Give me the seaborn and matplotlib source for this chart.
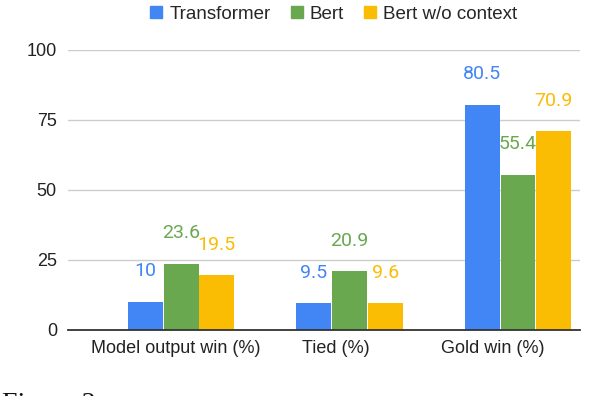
import numpy as np
import pandas as pd
import seaborn as sns
import matplotlib.pyplot as plt
from matplotlib.lines import Line2D

categories = ["Model output win (%)", "Tied (%)", "Gold win (%)"]
series = ["Transformer", "Bert", "Bert w/o context"]
transformer = [10, 9.5, 80.5]
bert = [23.6, 20.9, 55.4]
bert_noctx = [19.5, 9.6, 70.9]
colors = ["#4285F4", "#6AA84F", "#FBBC04"]
yticks = [0, 25, 50, 75, 100]

df = pd.DataFrame({
    "category": categories * 3,
    "series": [s for s in series for _ in categories],
    "value": transformer + bert + bert_noctx,
})

sns.set_theme(style="white")
plt.rcParams['font.family'] = ['Liberation Sans', 'DejaVu Sans']

fig = plt.figure(figsize=(6.08, 3.96), dpi=100)
ax = fig.add_axes([68 / 608, 66 / 396, 512 / 608, 280 / 396])

sns.barplot(data=df, x="category", y="value", hue="series", hue_order=series,
            palette=colors, width=0.635, gap=0.02, saturation=1,
            linewidth=0, ax=ax, legend=False)

for cont, col in zip(ax.containers, colors):
    for bar in cont:
        h = bar.get_height()
        ax.annotate(f"{h:g}", (bar.get_x() + bar.get_width() / 2, h),
                    xytext=(0, 22), textcoords="offset points",
                    ha="center", va="center", color=col, fontsize=14,
                    family=["Roboto", "DejaVu Sans"], annotation_clip=False)

ax.set_ylim(0, 100)
ax.set_xlim(-0.671, 2.368)
ax.set_yticks(yticks)
ax.set_xticks([-0.03, 0.92, 1.85], categories)
ax.set_xlabel("")
ax.set_ylabel("")
ax.yaxis.grid(True, color="#cccccc", lw=1)
ax.set_axisbelow(True)
for s in ["top", "left", "right"]:
    ax.spines[s].set_visible(False)
ax.spines["bottom"].set_color("#333333")
ax.spines["bottom"].set_linewidth(1.3)
ax.tick_params(axis="x", length=0, pad=7, labelsize=13, labelcolor="#222222")
ax.tick_params(axis="y", length=0, pad=8, labelsize=13, labelcolor="#222222")

handles = [Line2D([], [], marker="s", ls="", color=c, markersize=9) for c in colors]
fig.legend(handles=handles, labels=series, loc="center",
           bbox_to_anchor=(333 / 608, 1 - 14 / 396), ncol=3, frameon=False,
           fontsize=13.5, handletextpad=0.3, columnspacing=1.0, handlelength=0.8)

fig.text(2 / 608, 1 - 392 / 396, "Figure 2", va="top", ha="left", fontsize=20,
         family=["Liberation Serif", "DejaVu Serif"], color="#111111")

fig.savefig("out.png", dpi=100)
